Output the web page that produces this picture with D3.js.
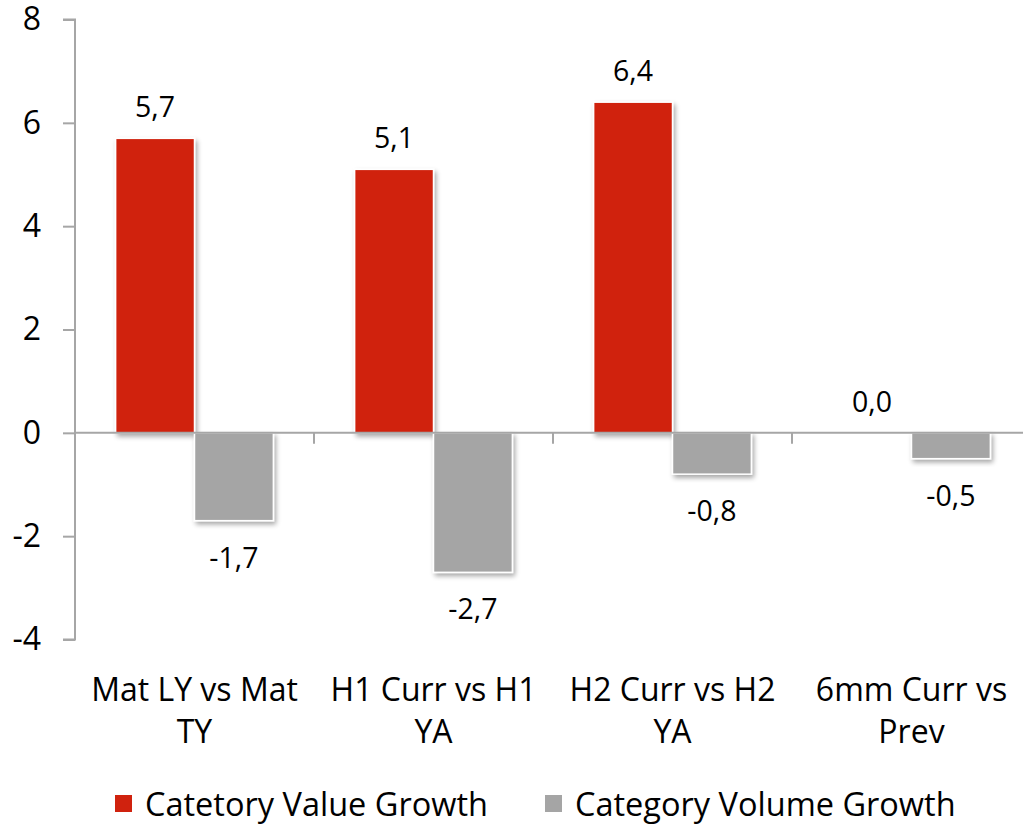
<!DOCTYPE html>
<html><head><meta charset="utf-8">
<script src="https://cdn.jsdelivr.net/npm/d3@7"></script>
<style>
html,body{margin:0;padding:0;background:#fff;}
svg{display:block;font-family:"Open Sans", sans-serif;}
</style></head>
<body><svg id="c" width="1023" height="824"></svg>
<script>
const categories = [["Mat LY vs Mat","TY"],["H1 Curr vs H1","YA"],["H2 Curr vs H2","YA"],["6mm Curr vs","Prev"]];
const seriesNames = ["Catetory Value Growth","Category Volume Growth"];
const valueGrowth = [5.7, 5.1, 6.4, 0.0];
const volumeGrowth = [-1.7, -2.7, -0.8, -0.5];
const yTicks = [-4,-2,0,2,4,6,8];
const colors = ["#D0220E","#A5A5A5"];

const svg = d3.select("#c");
const defs = svg.append("defs");
const f = defs.append("filter").attr("id","sh").attr("x","-20%").attr("y","-20%").attr("width","150%").attr("height","150%");
f.append("feGaussianBlur").attr("in","SourceAlpha").attr("stdDeviation",2.5);
f.append("feOffset").attr("dx",2).attr("dy",3).attr("result","o");
f.append("feComponentTransfer").append("feFuncA").attr("type","linear").attr("slope",0.35);
const m = f.append("feMerge"); m.append("feMergeNode"); m.append("feMergeNode").attr("in","SourceGraphic");

const x0 = d3.scaleBand().domain(d3.range(categories.length)).range([75,1031]);
const bw = x0.bandwidth();
const x1 = d3.scaleBand().domain([0,1]).range([bw*0.17, bw*0.83]);
const y = d3.scaleLinear().domain([-4,8]).range([639.5,19.5]);

// y axis
const ya = svg.append("g").attr("transform","translate(75,0)")
  .call(d3.axisLeft(y).tickValues(yTicks).tickSize(12).tickPadding(22).tickFormat(d=>d));
ya.select(".domain").attr("stroke","#A6A6A6").attr("stroke-width",2).attr("d","M-12,"+y(8)+"H0V"+y(-4)+"H-12");
ya.selectAll(".tick line").attr("stroke","#A6A6A6").attr("stroke-width",2);
ya.selectAll(".tick text").attr("font-size",32).attr("fill","#000").attr("font-family","'Open Sans', sans-serif");

const series = [valueGrowth, volumeGrowth];
const g = svg.append("g");
series.forEach((vals,s)=>{
  g.selectAll(null).data(vals).enter().append("rect")
    .attr("x",(d,i)=>x0(i)+x1(s))
    .attr("width",x1.bandwidth())
    .attr("y",d=>y(Math.max(0,d)))
    .attr("height",d=>Math.abs(y(d)-y(0)))
    .attr("fill",colors[s]).attr("stroke","#fff").attr("stroke-width",1.5)
    .attr("filter","url(#sh)");
});

// x axis at zero
const xa = svg.append("g").attr("transform",`translate(0,${y(0)})`);
xa.append("line").attr("x1",75).attr("x2",1031).attr("stroke","#A6A6A6").attr("stroke-width",2);
xa.selectAll("line.t").data(d3.range(1,categories.length)).enter().append("line").attr("class","t")
  .attr("x1",i=>x0(i)).attr("x2",i=>x0(i)).attr("y1",0).attr("y2",11).attr("stroke","#A6A6A6").attr("stroke-width",2);

// data labels
series.forEach((vals,s)=>{
  g.selectAll(null).data(vals).enter().append("text")
    .attr("x",(d,i)=>x0(i)+x1(s)+x1.bandwidth()/2)
    .attr("y",d=> d>=0 ? y(d)-21 : y(d)+47)
    .attr("text-anchor","middle").attr("font-size",28.5).attr("fill","#000")
    .text(d=>d.toFixed(1).replace(".",","));
});

// category labels
const cl = svg.append("g");
categories.forEach((lines,i)=>{
  const t = cl.append("text").attr("text-anchor","middle").attr("font-size",32).attr("fill","#000");
  lines.forEach((ln,k)=>t.append("tspan").attr("x",x0(i)+bw/2).attr("y",701+k*42).text(ln));
});

// legend
const lg = svg.append("g");
const lx = [115,545];
seriesNames.forEach((n,s)=>{
  lg.append("rect").attr("x",lx[s]).attr("y",795).attr("width",17).attr("height",17).attr("fill",colors[s]);
  lg.append("text").attr("x",lx[s]+30).attr("y",816).attr("font-size",32.5).attr("fill","#000").text(n);
});
</script></body></html>
